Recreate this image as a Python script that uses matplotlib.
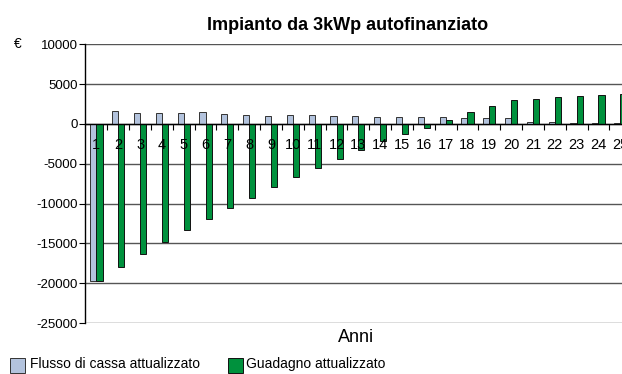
import matplotlib
matplotlib.use("Agg")
import matplotlib.pyplot as plt
import numpy as np

plt.rcParams['font.family'] = ['Liberation Sans', 'DejaVu Sans']

anni = list(range(1, 26))
flusso = [-19700, 1580, 1420, 1420, 1420, 1450, 1290, 1170, 1040, 1170,
          1170, 960, 980, 830, 830, 830, 830, 750, 750, 750,
          250, 250, 125, 125, 125]
guadagno = [-19750, -18000, -16370, -14770, -13260, -11880, -10590, -9290, -7950, -6650,
            -5520, -4430, -3290, -2160, -1280, -490, 460, 1460, 2290, 3040,
            3125, 3330, 3500, 3630, 3750]
y_ticks = [10000, 5000, 0, -5000, -10000, -15000, -20000, -25000]

col_flusso = '#b3c3dd'
col_guadagno = '#00913d'

fig = plt.figure(figsize=(6.22, 3.74), dpi=100)
ax = fig.add_axes([85.5 / 622, 1 - 323 / 374, 1 - 85.5 / 622, (323 - 44.3) / 374])

x = np.array(anni, dtype=float)
w = 0.28
ax.bar(x - w / 2, flusso, width=w, color=col_flusso, edgecolor='#333333', linewidth=0.7, zorder=3)
ax.bar(x + w / 2, guadagno, width=w, color=col_guadagno, edgecolor='#111111', linewidth=0.7, zorder=3)

ax.set_ylim(-25000, 10000)
ax.set_xlim(0.5, 25.08)
ax.set_yticks(y_ticks)
ax.set_yticklabels([str(v) for v in y_ticks], fontsize=9.5)
ax.yaxis.grid(True, color='#555555', linewidth=1.0, zorder=0)
ax.tick_params(axis='y', length=4, width=0.8, pad=1.5, color='black')

# category axis at zero, ticks between categories
ax.spines['bottom'].set_position(('data', 0))
ax.spines['bottom'].set_zorder(4)
ax.spines['bottom'].set_linewidth(1.0)
ax.spines['top'].set_visible(False)
ax.spines['right'].set_visible(False)
ax.spines['left'].set_linewidth(1.0)
ax.set_xticks([])
ax.set_xticks(np.arange(1.5, 25.5, 1.0), minor=True)
ax.tick_params(axis='x', which='minor', length=4, width=0.8, direction='out', color='black')

# category labels just under the zero line, drawn over the bars
for a in anni:
    ax.annotate(str(a), xy=(a, 0), xytext=(0, -10), textcoords='offset points',
                ha='center', va='top', fontsize=10.5, zorder=10, annotation_clip=False)

fig.text(348 / 622, 1 - 25 / 374, 'Impianto da 3kWp autofinanziato', ha='center', va='center',
         fontsize=13, fontweight='bold')
fig.text(18 / 622, 1 - 44 / 374, '€', ha='center', va='center', fontsize=10)
fig.text(356 / 622, 1 - 338 / 374, 'Anni', ha='center', va='center', fontsize=13)

# legend
fig.patches.append(plt.Rectangle((10 / 622, 1 - 373 / 374), 15 / 622, 15 / 374,
                                 transform=fig.transFigure, facecolor=col_flusso,
                                 edgecolor='#333333', linewidth=0.7))
fig.text(30 / 622, 1 - 364 / 374, 'Flusso di cassa attualizzato', ha='left', va='center', fontsize=10)
fig.patches.append(plt.Rectangle((228 / 622, 1 - 373 / 374), 15 / 622, 15 / 374,
                                 transform=fig.transFigure, facecolor=col_guadagno,
                                 edgecolor='#111111', linewidth=0.7))
fig.text(246 / 622, 1 - 364 / 374, 'Guadagno attualizzato', ha='left', va='center', fontsize=10)

fig.savefig('out.png', dpi=100)
